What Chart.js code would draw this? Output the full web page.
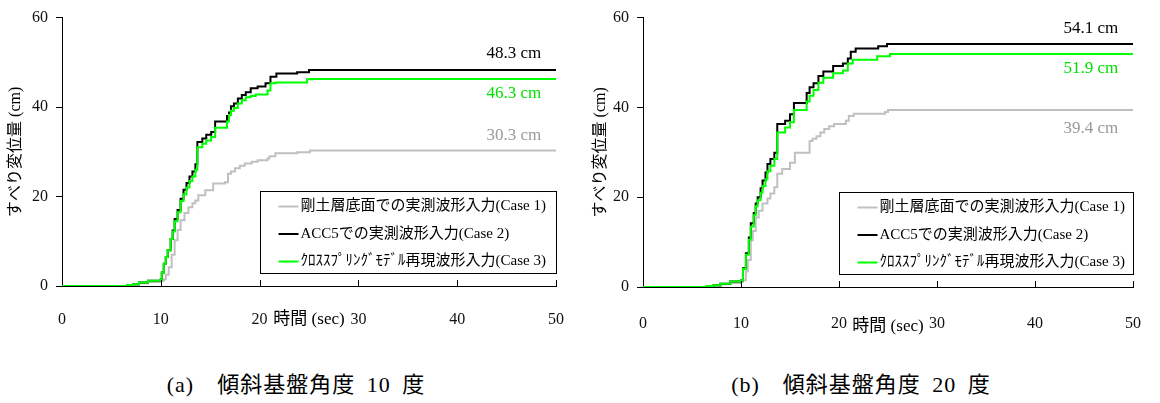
<!DOCTYPE html>
<html lang="ja">
<head>
<meta charset="utf-8">
<script src="https://cdn.jsdelivr.net/npm/chart.js@4.4.1/dist/chart.umd.min.js"></script>
<style>
  html, body { margin: 0; padding: 0; background: #fff; }
  body { width: 1160px; height: 403px; position: relative; overflow: hidden; }
  .panel { position: absolute; top: 0; width: 580px; height: 345px; }
  .caption {
    position: absolute; top: 372px; width: 400px; text-align: center;
    font-family: "Liberation Serif", "Times New Roman", Times, serif, "Noto Sans CJK JP";
    font-size: 22px; line-height: 26px; white-space: pre; word-spacing: 5px; letter-spacing: 1px; color: #000;
  }
</style>
</head>
<body>
<div class="panel" style="left:0"><canvas id="chartA" width="580" height="345"></canvas></div>
<div class="panel" style="left:580px"><canvas id="chartB" width="580" height="345"></canvas></div>
<div class="caption" style="left:96px">(a)  傾斜基盤角度 10 度</div>
<div class="caption" style="left:661px">(b)  傾斜基盤角度 20 度</div>
<script>
const SERIF = '"Liberation Serif", "Times New Roman", Times, serif, "Noto Sans CJK JP"';

const seriesLabels = [
  "剛土層底面での実測波形入力(Case 1)",
  "ACC5での実測波形入力(Case 2)",
  "ｸﾛｽｽﾌﾟﾘﾝｸﾞﾓﾃﾞﾙ再現波形入力(Case 3)",
];
const seriesColors = ["#c0c0c0", "#000000", "#00ff00"];
const noteColors = ["#999999", "#000000", "#00e000"];

const xTitle = "時間 (sec)";
const yTitle = "すべり変位量 (cm)";

// (a) 傾斜基盤角度 10 度
const tA1 = [0, 6.6, 7.8, 8.7, 10.0, 10.3, 10.5, 10.8, 11.1, 11.4, 11.7, 12.0, 12.4, 12.8, 13.2, 13.5, 13.8, 14.5, 15.3, 16.5, 16.8, 17.1, 17.5, 18.0, 18.5, 19.2, 19.8, 20.8, 21.0, 21.6, 23.8, 25.1, 50];
const vA1 = [0, 0.2, 0.6, 0.9, 1.1, 1.5, 2.5, 4.2, 7.0, 10.2, 12.5, 14.7, 16.3, 17.6, 18.5, 19.1, 20.3, 21.4, 22.9, 23.2, 25.1, 25.6, 26.3, 26.9, 27.4, 27.8, 28.1, 28.5, 29.0, 29.7, 29.9, 30.3, 30.3];
const tA2 = [0, 6.6, 7.2, 7.8, 8.7, 10.0, 10.1, 10.3, 10.5, 10.7, 11.0, 11.2, 11.4, 11.7, 12.0, 12.3, 12.6, 12.9, 13.2, 13.5, 13.7, 14.2, 14.6, 15.1, 15.5, 16.7, 16.9, 17.1, 17.4, 17.8, 18.2, 18.6, 19.1, 19.8, 20.6, 21.1, 21.7, 23.8, 25.0, 50];
const vA2 = [0, 0.2, 0.4, 0.8, 1.2, 1.5, 3.0, 5.0, 6.5, 8.0, 10.5, 12.4, 15.0, 17.0, 19.5, 21.5, 23.0, 24.5, 25.6, 27.2, 32.2, 33.0, 33.8, 34.4, 36.8, 38.0, 38.8, 40.2, 40.8, 41.9, 42.7, 43.3, 44.2, 44.6, 45.3, 46.8, 47.5, 47.8, 48.3, 48.3];
const tA3 = [0, 6.6, 7.2, 7.8, 8.7, 10.0, 10.1, 10.3, 10.5, 10.7, 11.0, 11.2, 11.4, 11.7, 12.0, 12.3, 12.6, 12.9, 13.2, 13.5, 13.7, 14.2, 14.6, 15.1, 15.5, 16.7, 16.9, 17.1, 17.4, 17.8, 18.2, 18.6, 19.1, 19.6, 20.8, 21.1, 21.6, 24.8, 25.3, 50];
const vA3 = [0, 0.2, 0.4, 0.8, 1.2, 1.5, 3.0, 5.0, 6.5, 8.0, 10.5, 12.2, 14.5, 16.5, 19.0, 20.5, 22.0, 23.5, 24.5, 26.0, 31.0, 31.8, 32.5, 33.3, 35.4, 36.8, 38.2, 39.2, 39.8, 40.8, 41.5, 42.2, 42.5, 42.8, 43.7, 45.3, 45.5, 46.2, 46.3, 46.3];
const finalA = [30.3, 48.3, 46.3];

// (b) 傾斜基盤角度 20 度
const tB1 = [0, 6.5, 7.9, 8.9, 10.0, 10.2, 10.5, 10.7, 11.0, 11.2, 11.5, 11.8, 12.2, 12.7, 13.0, 13.4, 13.7, 14.2, 15.0, 15.5, 17.0, 17.3, 17.7, 18.1, 18.5, 19.0, 19.5, 20.7, 21.0, 21.5, 24.7, 25.0, 50];
const vB1 = [0, 0.2, 0.6, 0.9, 1.1, 1.5, 3.5, 6.0, 10.4, 12.5, 15.5, 17.0, 18.6, 19.7, 20.8, 22.2, 25.2, 26.3, 27.7, 29.9, 32.5, 33.0, 33.6, 34.4, 35.2, 35.8, 36.3, 37.0, 38.1, 38.6, 39.0, 39.4, 39.4];
const tB2 = [0, 6.5, 7.2, 7.9, 8.9, 10.0, 10.2, 10.5, 10.8, 11.0, 11.3, 11.5, 11.7, 12.0, 12.2, 12.5, 12.7, 13.0, 13.4, 13.7, 14.5, 15.0, 15.4, 16.7, 17.0, 17.4, 17.9, 18.4, 19.4, 20.4, 20.9, 21.2, 21.7, 24.0, 24.9, 50];
const vB2 = [0, 0.2, 0.4, 0.7, 1.2, 1.5, 4.2, 7.5, 11.0, 14.2, 16.5, 18.6, 20.0, 22.0, 23.7, 25.5, 27.4, 28.5, 29.9, 36.3, 37.0, 38.5, 41.0, 43.2, 44.5, 45.4, 47.0, 48.0, 49.2, 49.8, 50.9, 52.4, 53.1, 53.6, 54.1, 54.1];
const tB3 = [0, 6.5, 7.2, 7.9, 8.9, 10.0, 10.2, 10.5, 10.8, 11.0, 11.3, 11.5, 11.7, 12.0, 12.2, 12.5, 12.7, 13.0, 13.4, 13.7, 14.5, 15.0, 15.4, 16.7, 17.0, 17.4, 17.9, 18.4, 19.4, 20.4, 20.9, 21.4, 23.9, 25.2, 50];
const vB3 = [0, 0.2, 0.4, 0.7, 1.2, 1.5, 4.0, 7.2, 10.5, 13.5, 16.0, 18.0, 19.3, 21.0, 22.5, 24.0, 25.8, 27.0, 28.5, 34.4, 35.5, 36.7, 39.4, 41.3, 42.6, 43.9, 45.5, 46.6, 47.6, 48.2, 49.8, 50.6, 51.4, 51.9, 51.9];
const finalB = [39.4, 54.1, 51.9];

const toPoints = (ts, vs) => ts.map((t, i) => ({ x: t, y: vs[i] }));

// axes, inward x ticks, titles, boxed legend and end-value notes
const extrasPlugin = {
  id: "extras",
  afterDraw(chart, args, opts) {
    const { ctx, chartArea: area } = chart;
    const xs = chart.scales.x;
    const ys = chart.scales.y;
    ctx.save();

    ctx.strokeStyle = "#000";
    ctx.lineWidth = 1;
    xs.ticks.forEach((tk) => {
      if (tk.value === 0) return;
      const px = Math.round(xs.getPixelForValue(tk.value)) + 0.5;
      ctx.beginPath();
      ctx.moveTo(px, area.bottom);
      ctx.lineTo(px, area.bottom - 6);
      ctx.stroke();
    });

    ctx.fillStyle = "#000";
    ctx.textAlign = "center";
    ctx.textBaseline = "middle";
    ctx.font = `17px ${SERIF}`;
    ctx.fillText(xTitle, (area.left + area.right) / 2, area.bottom + opts.xTitleOffset);

    ctx.save();
    ctx.translate(area.left - opts.yTitleOffset, (area.top + area.bottom) / 2);
    ctx.rotate(-Math.PI / 2);
    ctx.font = `16px ${SERIF}`;
    ctx.fillText(yTitle, 0, 0);
    ctx.restore();

    // legend box
    const bx0 = Math.round(xs.getPixelForValue(20)) + 0.5;
    const bx1 = Math.round(xs.getPixelForValue(50)) + 0.5;
    const by0 = Math.round(ys.getPixelForValue(21.2)) + 0.5;
    const by1 = Math.round(ys.getPixelForValue(3.0)) + 0.5;
    ctx.fillStyle = "#fff";
    ctx.fillRect(bx0, by0, bx1 - bx0, by1 - by0);
    ctx.strokeStyle = "#000";
    ctx.strokeRect(bx0, by0, bx1 - bx0, by1 - by0);
    ctx.font = `15px ${SERIF}`;
    ctx.textAlign = "left";
    chart.data.datasets.forEach((ds, i) => {
      const ry = by0 + 15 + i * 27.5;
      ctx.strokeStyle = ds.borderColor;
      ctx.lineWidth = 2;
      ctx.beginPath();
      ctx.moveTo(bx0 + 18, ry);
      ctx.lineTo(bx0 + 38, ry);
      ctx.stroke();
      ctx.fillStyle = "#000";
      ctx.fillText(ds.label, bx0 + 40, ry);
    });

    // final values
    ctx.font = `17px ${SERIF}`;
    ctx.textAlign = "right";
    opts.finals.forEach((v, i) => {
      ctx.fillStyle = noteColors[i];
      ctx.fillText(`${v} cm`, xs.getPixelForValue(48.5), ys.getPixelForValue(v) + opts.noteOffsets[i]);
    });
    ctx.restore();
  },
};

function createPanel(canvasId, series, finals, cfg) {
  const ctx = document.getElementById(canvasId).getContext("2d");
  return new Chart(ctx, {
    type: "line",
    data: {
      datasets: series.map(([ts, vs], i) => ({
        label: seriesLabels[i],
        data: toPoints(ts, vs),
        borderColor: seriesColors[i],
        borderWidth: 2,
        pointRadius: 0,
        stepped: true,
        fill: false,
        order: 3 - i,
      })),
    },
    options: {
      responsive: false,
      animation: false,
      layout: { padding: { top: 16, right: cfg.padRight, left: 0, bottom: 0 } },
      plugins: {
        legend: { display: false },
        tooltip: { enabled: false },
        extras: { finals, xTitleOffset: cfg.xTitleOffset, yTitleOffset: cfg.yTitleOffset, noteOffsets: cfg.noteOffsets },
      },
      scales: {
        x: {
          type: "linear",
          min: 0,
          max: 50,
          ticks: { stepSize: 10, padding: cfg.xTickPad, color: "#111", font: { family: SERIF, size: 16 } },
          grid: { display: false },
          border: { display: true, color: "#000", width: 1 },
          afterFit: (scale) => { scale.height = cfg.xHeight; },
        },
        y: {
          min: 0,
          max: 60,
          ticks: { stepSize: 20, padding: 8, color: "#111", font: { family: SERIF, size: 16 } },
          grid: { drawOnChartArea: false, drawTicks: true, tickLength: 6, color: "#000" },
          border: { display: true, color: "#000", width: 1 },
          afterFit: (scale) => { scale.width = cfg.yWidth; },
        },
      },
    },
    plugins: [extrasPlugin],
  });
}

createPanel("chartA", [[tA1, vA1], [tA2, vA2], [tA3, vA3]], finalA, {
  padRight: 18, yWidth: 62, xHeight: 59, xTickPad: 16,
  xTitleOffset: 34, yTitleOffset: 46, noteOffsets: [-15, -16, 15],
});
createPanel("chartB", [[tB1, vB1], [tB2, vB2], [tB3, vB3]], finalB, {
  padRight: 17, yWidth: 63, xHeight: 58, xTickPad: 19,
  xTitleOffset: 40, yTitleOffset: 42, noteOffsets: [18, -16, 15],
});
</script>
</body>
</html>
